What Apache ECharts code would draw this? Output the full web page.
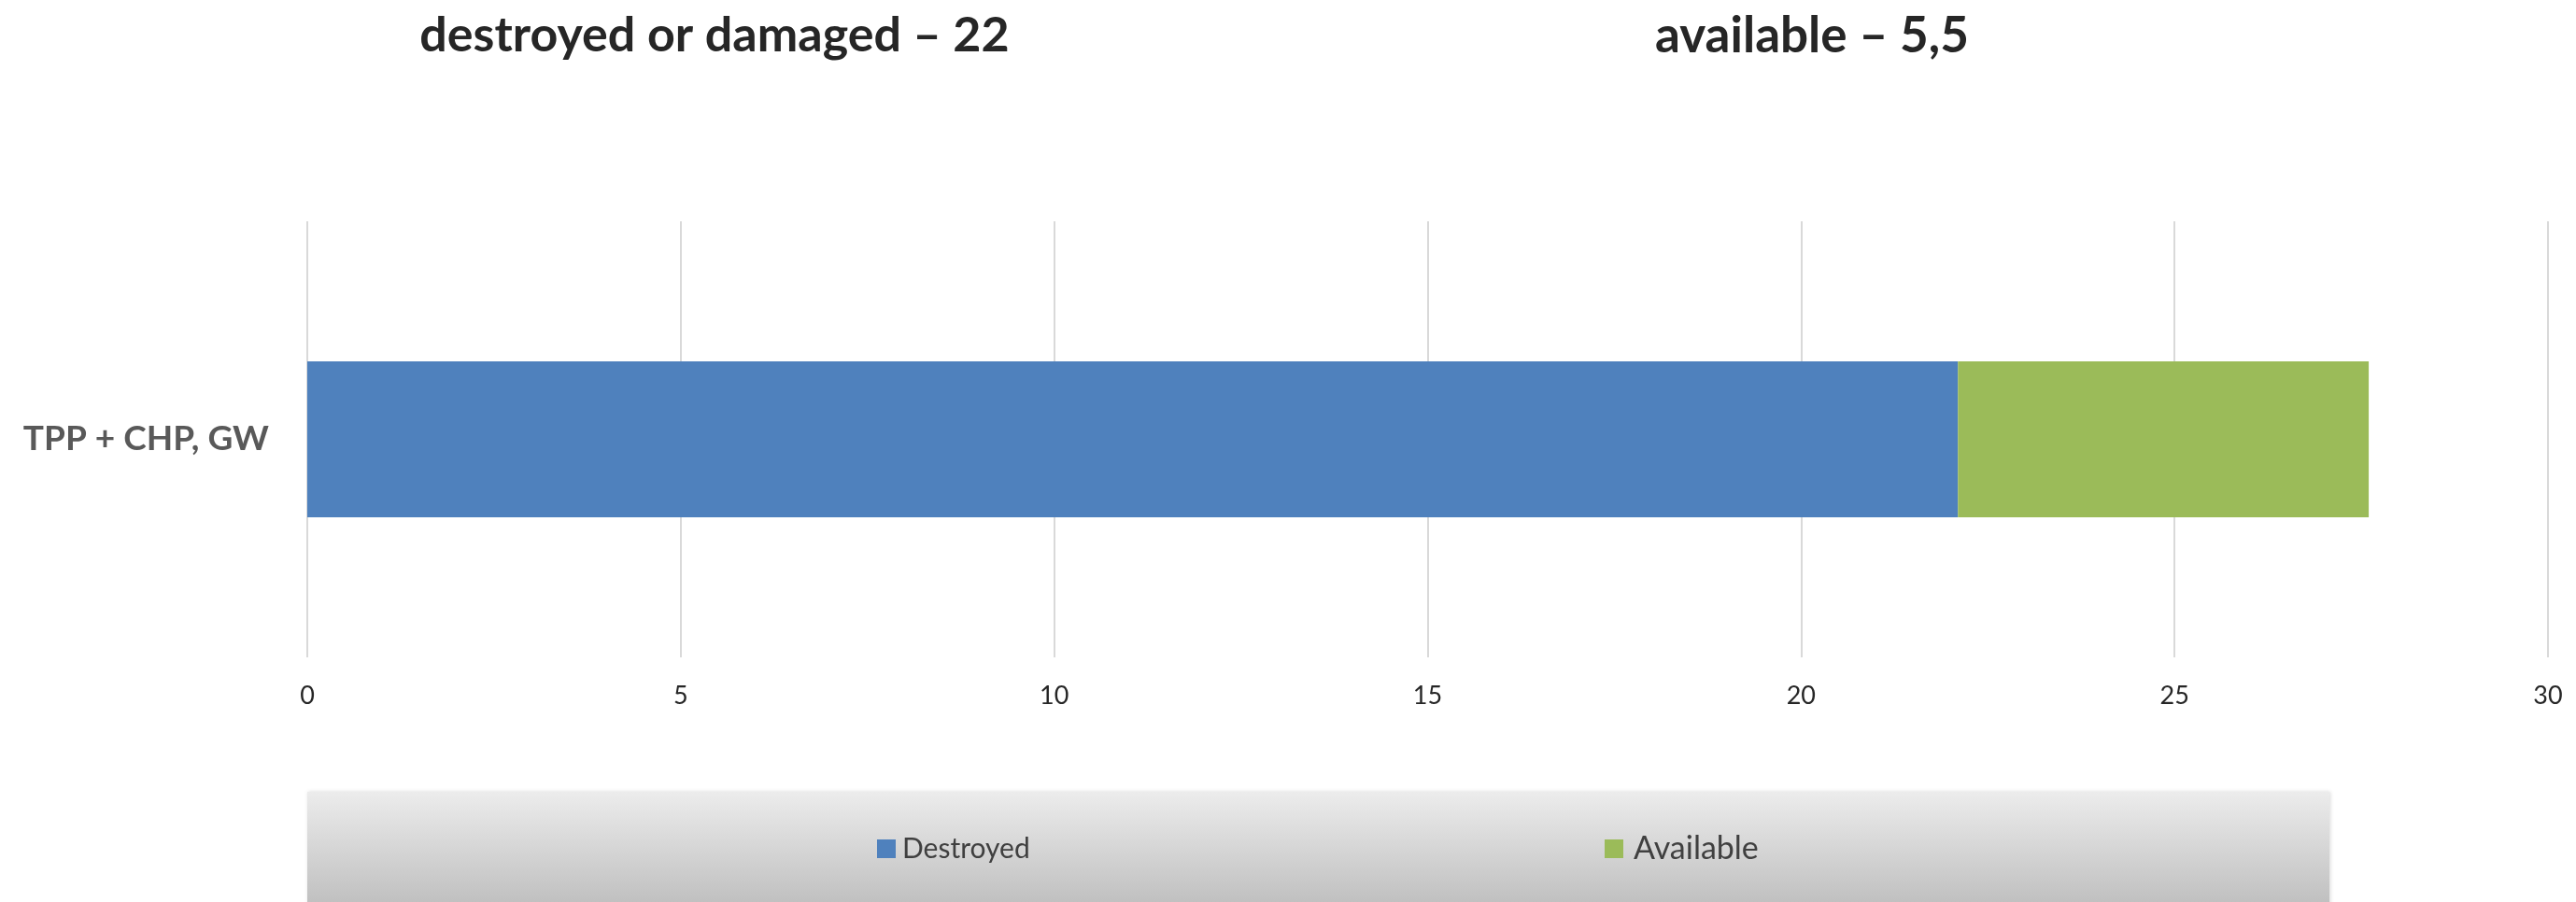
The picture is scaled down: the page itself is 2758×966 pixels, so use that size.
<!DOCTYPE html>
<html>
<head>
<meta charset="utf-8">
<script src="https://cdn.jsdelivr.net/npm/echarts@6/dist/echarts.min.js"></script>
<style>
html,body{margin:0;padding:0;background:#fff;}
#chart{width:2758px;height:966px;}
</style>
</head>
<body>
<div id="chart"></div>
<script>
var categories = ['TPP + CHP, GW'];
var seriesNames = ['Destroyed', 'Available'];
var destroyed = [22.1];
var available = [5.5];
var titleTexts = ['destroyed or damaged \u2013 22', 'available \u2013 5,5'];
var axisMin = 0, axisMax = 30, axisStep = 5;

var FONT = 'Lato';
var chart = echarts.init(document.getElementById('chart'), null, {renderer: 'canvas'});
var option = {
  backgroundColor: '#ffffff',
  animation: false,
  title: [
    {text: titleTexts[0], left: 760, top: 7, textAlign: 'center',
     textStyle: {fontFamily: FONT, fontWeight: 'bold', fontSize: 52, color: '#262626'}},
    {text: titleTexts[1], left: 1935, top: 7, textAlign: 'center',
     textStyle: {fontFamily: FONT, fontWeight: 'bold', fontSize: 53, color: '#262626'}}
  ],
  graphic: [{
    type: 'rect', z: -1,
    shape: {x: 329, y: 848, width: 2165, height: 130},
    style: {
      fill: new echarts.graphic.LinearGradient(0, 0, 0, 1, [
        {offset: 0, color: '#ececec'}, {offset: 1, color: '#bcbcbc'}
      ]),
      shadowBlur: 4, shadowColor: 'rgba(0,0,0,0.15)', shadowOffsetX: 1
    }
  }],
  legend: [
    {data: [seriesNames[0]], left: 934, top: 889, icon: 'rect', itemWidth: 20, itemHeight: 20, itemGap: 0,
     textStyle: {fontFamily: FONT, fontSize: 30, color: '#404040', padding: [0,0,0,2]}},
    {data: [seriesNames[1]], left: 1713, top: 887, icon: 'rect', itemWidth: 20, itemHeight: 20, itemGap: 0,
     textStyle: {fontFamily: FONT, fontSize: 34, color: '#404040', padding: [0,0,0,6]}}
  ],
  grid: {left: 329, right: 30, top: 237, bottom: 262, containLabel: false},
  xAxis: {
    type: 'value', min: axisMin, max: axisMax, interval: axisStep,
    axisLine: {show: false}, axisTick: {show: false},
    splitLine: {show: true, lineStyle: {color: '#d9d9d9', width: 2}},
    axisLabel: {fontFamily: FONT, fontSize: 27, color: '#262626', margin: 28}
  },
  yAxis: {
    type: 'category', data: categories,
    axisLine: {show: false}, axisTick: {show: false},
    axisLabel: {fontFamily: FONT, fontWeight: 'bold', fontSize: 37, color: '#595959', margin: 41}
  },
  series: [
    {name: seriesNames[0], type: 'bar', stack: 'total', data: destroyed, barWidth: '35.8%',
     itemStyle: {color: '#4f81bd'}},
    {name: seriesNames[1], type: 'bar', stack: 'total', data: available, barWidth: '35.8%',
     itemStyle: {color: '#9bbb59'}}
  ]
};
chart.setOption(option);
</script>
</body>
</html>
